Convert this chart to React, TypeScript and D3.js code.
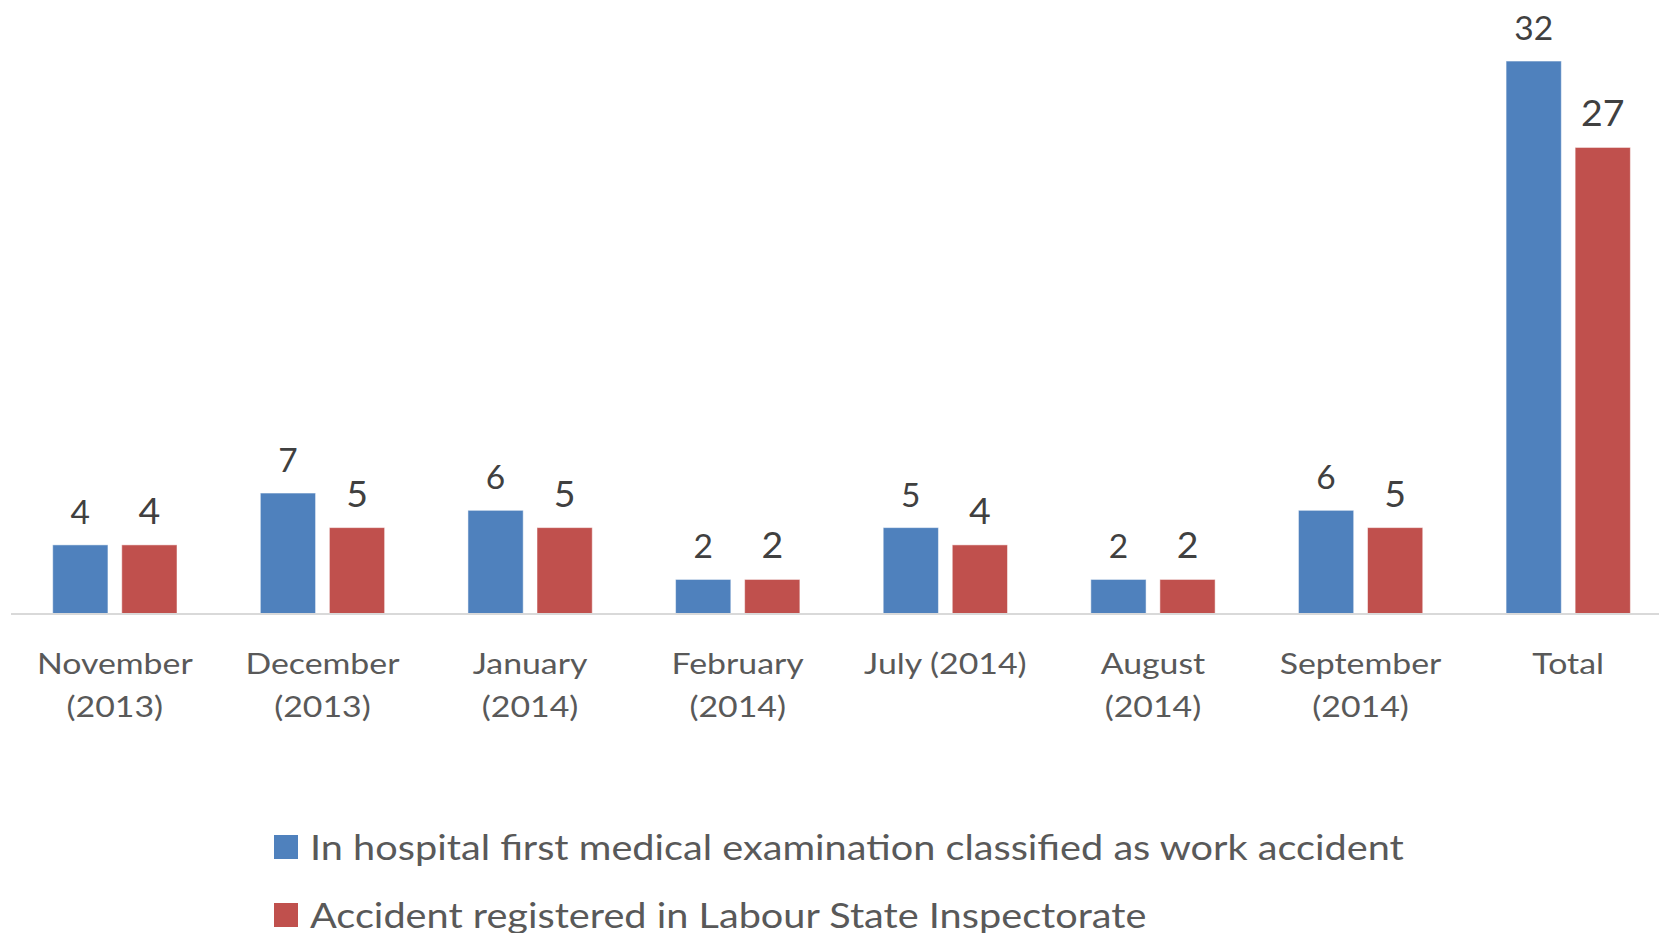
import React from "react";
import * as d3 from "d3";

const categories = [
  ["November", "(2013)"],
  ["December", "(2013)"],
  ["January", "(2014)"],
  ["February", "(2014)"],
  ["July (2014)"],
  ["August", "(2014)"],
  ["September", "(2014)"],
  ["Total"],
];
const hospital = [4, 7, 6, 2, 5, 2, 6, 32];
const registered = [4, 5, 5, 2, 4, 2, 5, 27];
const seriesNames = [
  "In hospital first medical examination classified as work accident",
  "Accident registered in Labour State Inspectorate",
];
const colors = ["#4F81BD", "#C0504D"];

const W = 1659;
const H = 933;
const baseY = 614;
const font = "Lato, 'Open Sans', sans-serif";

export default function App() {
  const keys = categories.map((c) => c.join(" "));
  const x0 = d3.scaleBand().domain(keys).range([11, 1672]);
  const x1 = d3
    .scaleBand()
    .domain(["0", "1"])
    .range([41.7, 166])
    .paddingInner(0.2);
  const y = d3.scaleLinear().domain([0, 35]).range([baseY, baseY - 35 * 17.28]);

  const series = [hospital, registered];
  const labelSize = [33.5, 37.5];

  return (
    <svg
      width={W}
      height={H}
      style={{ position: "absolute", left: 0, top: 0, background: "#fff" }}
      fontFamily={font}
    >
      {series.map((vals, s) => (
        <g key={s}>
          {vals.map((v, i) => {
            const bx = (x0(keys[i]) ?? 0) + (x1(String(s)) ?? 0);
            const bw = x1.bandwidth();
            return (
              <g key={i}>
                <rect
                  x={bx}
                  y={y(v)}
                  width={bw}
                  height={baseY - y(v)}
                  fill={colors[s]}
                  stroke="#ffffff"
                  strokeOpacity={0.5}
                  strokeWidth={1}
                />
                <text
                  x={bx + bw / 2}
                  y={y(v) - 21}
                  textAnchor="middle"
                  fontSize={labelSize[s]}
                  fill="#404040"
                >
                  {v}
                </text>
              </g>
            );
          })}
        </g>
      ))}
      <line x1={11} x2={W} y1={baseY} y2={baseY} stroke="#d9d9d9" strokeWidth={2} />
      {categories.map((lines, i) => (
        <g
          key={i}
          transform={`translate(${(x0(keys[i]) ?? 0) + x0.bandwidth() / 2}, 674) scale(1.147, 1)`}
        >
          <text textAnchor="middle" fontSize={29.5} fill="#595959">
            {lines.map((l, j) => (
              <tspan key={j} x={0} dy={j === 0 ? 0 : 43.5}>
                {l}
              </tspan>
            ))}
          </text>
        </g>
      ))}
      {seriesNames.map((name, s) => (
        <g key={s} transform={`translate(274, ${835 + s * 68})`}>
          <rect width={24} height={24} fill={colors[s]} />
          <text
            transform="translate(36, 25) scale(1.134, 1)"
            fontSize={35}
            fill="#595959"
          >
            {name}
          </text>
        </g>
      ))}
    </svg>
  );
}
